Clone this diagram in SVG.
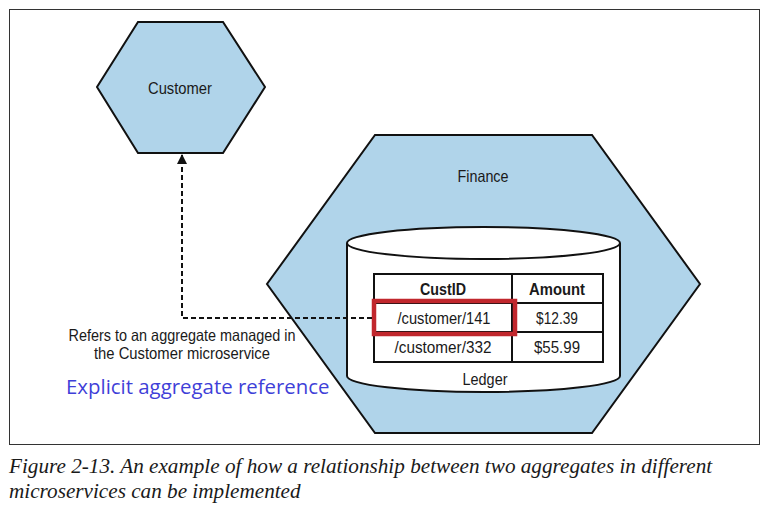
<svg xmlns="http://www.w3.org/2000/svg" width="770" height="510" viewBox="0 0 770 510">
<style>
.hex{fill:#b0d4ea;stroke:#111;stroke-width:2}
.lbl{font-family:"Liberation Sans",Arial,sans-serif;font-size:16.5px;fill:#1a1a1a;text-anchor:middle}
.bold{font-weight:bold}
.cell{fill:#fff;stroke:#111;stroke-width:2}
.dash{fill:none;stroke:#111;stroke-width:2;stroke-dasharray:5,3}
.blue{font-family:"Open Sans","Noto Sans",sans-serif;font-size:20.4px;fill:#3f3fd8}
.cap{font-family:"Liberation Serif",serif;font-style:italic;font-size:21.2px;fill:#1a1a1a}
</style>
<defs>
<marker id="arrow" viewBox="0 0 10 10" refX="9" refY="5" markerWidth="5" markerHeight="5" orient="auto">
<path d="M0,0 L10,5 L0,10 z" fill="#111"/>
</marker>
</defs>
<rect x="9.5" y="9.5" width="750" height="435" fill="#fff" stroke="#333" stroke-width="1"/>
<g id="customer">
<polygon class="hex" points="138,22 223,22 265,87 223,153 138,153 97,87"/>
<text class="lbl" x="180" y="94" textLength="64" lengthAdjust="spacingAndGlyphs">Customer</text>
</g>
<g id="finance">
<polygon class="hex" points="375,135 592,135 700,284 592,433 375,433 267,284"/>
<text class="lbl" x="483" y="182" textLength="51" lengthAdjust="spacingAndGlyphs">Finance</text>
</g>
<g id="ledger">
<path d="M347,243 L347,376 A136.5,16 0 0 0 620,376 L620,243" fill="#fff" stroke="#111" stroke-width="2"/>
<ellipse cx="483.5" cy="243" rx="136.5" ry="16" fill="#fff" stroke="#111" stroke-width="2"/>
<text class="lbl" x="485" y="385" textLength="45" lengthAdjust="spacingAndGlyphs">Ledger</text>
</g>
<g id="table">
<rect class="cell" x="374" y="274" width="229" height="88"/>
<line x1="374" y1="303" x2="603" y2="303" stroke="#111" stroke-width="2"/>
<line x1="374" y1="332" x2="603" y2="332" stroke="#111" stroke-width="2"/>
<line x1="512" y1="274" x2="512" y2="362" stroke="#111" stroke-width="2"/>
<text class="lbl bold" x="443" y="295" textLength="46" lengthAdjust="spacingAndGlyphs">CustID</text>
<text class="lbl bold" x="557" y="295" textLength="56" lengthAdjust="spacingAndGlyphs">Amount</text>
<text class="lbl" x="444" y="324" textLength="93" lengthAdjust="spacingAndGlyphs">/customer/141</text>
<text class="lbl" x="557" y="324" textLength="42" lengthAdjust="spacingAndGlyphs">$12.39</text>
<text class="lbl" x="443" y="353" textLength="97" lengthAdjust="spacingAndGlyphs">/customer/332</text>
<text class="lbl" x="557" y="353" textLength="46" lengthAdjust="spacingAndGlyphs">$55.99</text>
</g>
<g id="highlight">
<rect x="374" y="301" width="141" height="33" fill="none" stroke="#c1272d" stroke-width="4.5"/>
</g>
<g id="connectors">
<path class="dash" d="M372,318 L182,318 L182,155" marker-end="url(#arrow)"/>
</g>
<g id="labels">
<text class="lbl" x="182" y="341" textLength="227" lengthAdjust="spacingAndGlyphs">Refers to an aggregate managed in</text>
<text class="lbl" x="182" y="359" textLength="176" lengthAdjust="spacingAndGlyphs">the Customer microservice</text>
<text class="blue" x="66" y="394">Explicit aggregate reference</text>
</g>
<g id="caption">
<text class="cap" x="9" y="473">Figure 2-13. An example of how a relationship between two aggregates in different</text>
<text class="cap" x="9" y="498">microservices can be implemented</text>
</g>
</svg>
